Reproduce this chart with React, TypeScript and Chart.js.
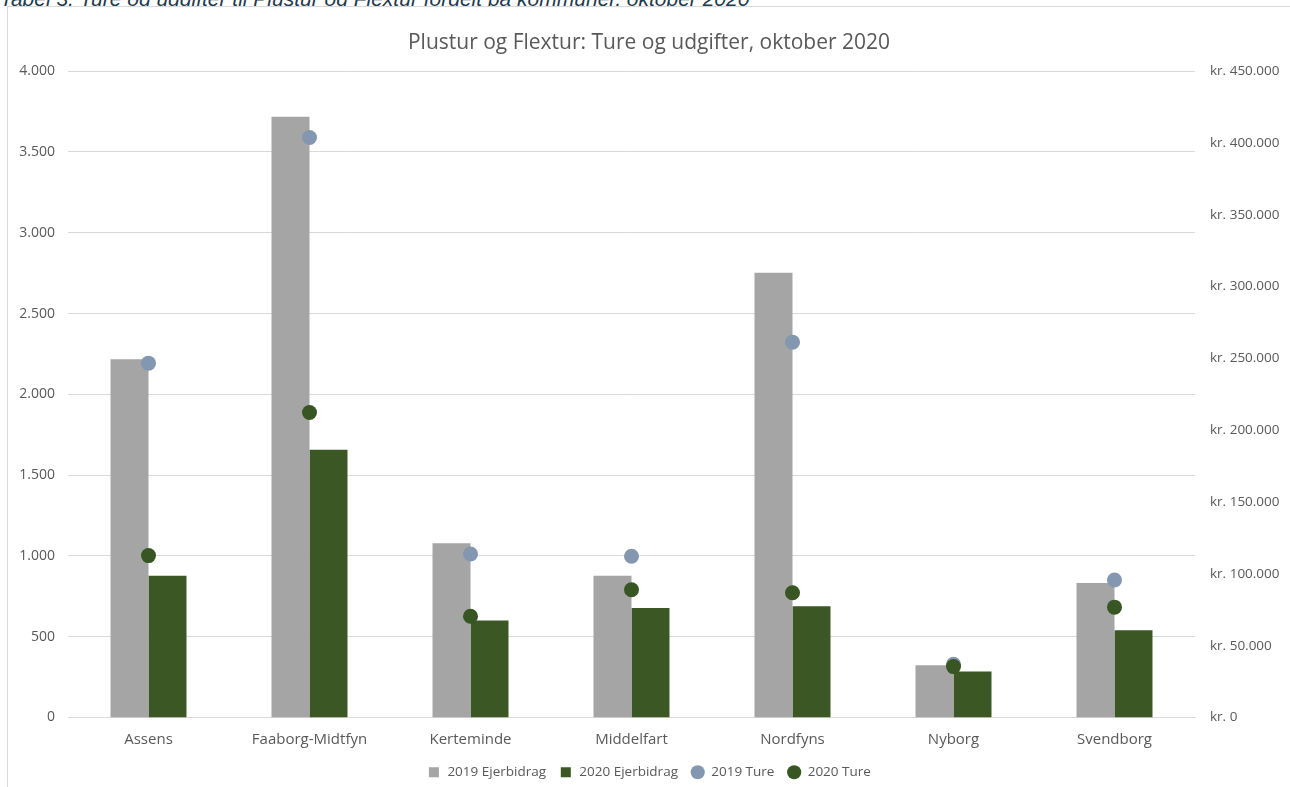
import React, { useEffect, useRef } from "react";
import { Chart, registerables } from "chart.js";

Chart.register(...registerables);

const categories = ["Assens", "Faaborg-Midtfyn", "Kerteminde", "Middelfart", "Nordfyns", "Nyborg", "Svendborg"];
const ejerbidrag2019 = [249500, 418200, 121400, 98700, 309600, 36300, 93600];
const ejerbidrag2020 = [98700, 186400, 67600, 76200, 77400, 32100, 60800];
const ture2019 = [2193, 3590, 1012, 998, 2323, 329, 851];
const ture2020 = [1002, 1888, 627, 791, 772, 315, 683];

const captionText = "Tabel 3. Ture og udgifter til Plustur og Flextur fordelt på kommuner, oktober 2020";
const titleText = "Plustur og Flextur: Ture og udgifter, oktober 2020";

const fmt = (n: number) => String(Math.round(n)).replace(/\B(?=(\d{3})+(?!\d))/g, ".");

const FONT = "'Open Sans', 'Liberation Sans', sans-serif";
const TEXT = "#595959";
const GRID = "#d9d9d9";

export default function App() {
  const ref = useRef<HTMLCanvasElement | null>(null);

  useEffect(() => {
    document.body.style.margin = "0";
    document.body.style.overflow = "hidden";
    document.documentElement.style.overflow = "hidden";
    if (!ref.current) return;
    const chart = new Chart(ref.current, {
      type: "bar",
      data: {
        labels: categories,
        datasets: [
          {
            type: "bar",
            label: "2019 Ejerbidrag",
            data: ejerbidrag2019,
            backgroundColor: "#a5a5a5",
            yAxisID: "y1",
            order: 3,
            pointStyle: "rect",
            categoryPercentage: 0.472,
            barPercentage: 1,
          } as any,
          {
            type: "bar",
            label: "2020 Ejerbidrag",
            data: ejerbidrag2020,
            backgroundColor: "#3a5724",
            yAxisID: "y1",
            order: 3,
            pointStyle: "rect",
            categoryPercentage: 0.472,
            barPercentage: 1,
          } as any,
          {
            type: "line",
            label: "2019 Ture",
            data: ture2019,
            showLine: false,
            backgroundColor: "#8497b0",
            borderColor: "#8497b0",
            borderWidth: 0,
            pointRadius: 7.5,
            pointHoverRadius: 7.5,
            pointBorderWidth: 0,
            pointStyle: "circle",
            yAxisID: "y",
            order: 2,
          } as any,
          {
            type: "line",
            label: "2020 Ture",
            data: ture2020,
            showLine: false,
            backgroundColor: "#375623",
            borderColor: "#375623",
            borderWidth: 0,
            pointRadius: 7.5,
            pointHoverRadius: 7.5,
            pointBorderWidth: 0,
            pointStyle: "circle",
            yAxisID: "y",
            order: 1,
          } as any,
        ],
      },
      options: {
        animation: false,
        responsive: true,
        maintainAspectRatio: false,
        layout: { padding: { left: 0, right: 0, top: 0, bottom: 0 } },
        plugins: {
          title: {
            display: true,
            text: titleText,
            color: TEXT,
            font: { family: FONT, size: 21, weight: "normal", lineHeight: 1.2 },
            padding: { top: 23, bottom: 16 },
          },
          legend: {
            position: "bottom",
            labels: {
              usePointStyle: true,
              boxHeight: 10,
              color: TEXT,
              font: { family: FONT, size: 13.5, lineHeight: 1.2 },
              padding: 13,
              sort: (a: any, b: any) => a.datasetIndex - b.datasetIndex,
            },
          },
          tooltip: { enabled: false },
        },
        scales: {
          x: {
            offset: true,
            grid: { display: false, drawTicks: false },
            border: { color: GRID },
            ticks: { color: TEXT, font: { family: FONT, size: 15, lineHeight: 1.2 }, padding: 13 },
            afterFit: (s: any) => {
              s.height = 35;
            },
          },
          y: {
            position: "left",
            min: 0,
            max: 4000,
            grid: { color: GRID, drawTicks: false },
            border: { display: false },
            ticks: {
              stepSize: 500,
              color: TEXT,
              font: { family: FONT, size: 14 },
              padding: 13,
              callback: (v: any) => fmt(Number(v)),
            },
            afterFit: (s: any) => {
              s.width = 60;
            },
          },
          y1: {
            position: "right",
            min: 0,
            max: 450000,
            grid: { display: false, drawTicks: false },
            border: { display: false },
            ticks: {
              stepSize: 50000,
              color: TEXT,
              font: { family: FONT, size: 13.5 },
              padding: 15,
              callback: (v: any) => "kr. " + fmt(Number(v)),
            },
            afterFit: (s: any) => {
              s.width = 95;
            },
          },
        },
      } as any,
    });
    return () => chart.destroy();
  }, []);

  return (
    <div style={{ position: "relative", width: 1290, height: 787, overflow: "hidden", background: "#fff" }}>
      <div
        style={{
          position: "absolute",
          left: 0,
          top: -12,
          whiteSpace: "nowrap",
          fontFamily: "'Liberation Sans', Arial, sans-serif",
          fontStyle: "italic",
          fontSize: 21,
          lineHeight: "21px",
          color: "#1f3b4d",
        }}
      >
        {captionText}
      </div>
      <div
        style={{
          position: "absolute",
          left: 7,
          top: 6,
          width: 1282,
          height: 800,
          border: "1px solid #d9d9d9",
          background: "#fff",
        }}
      >
        <div style={{ position: "absolute", left: 0, top: 0, width: 1282, height: 782 }}>
          <canvas ref={ref} />
        </div>
      </div>
    </div>
  );
}
